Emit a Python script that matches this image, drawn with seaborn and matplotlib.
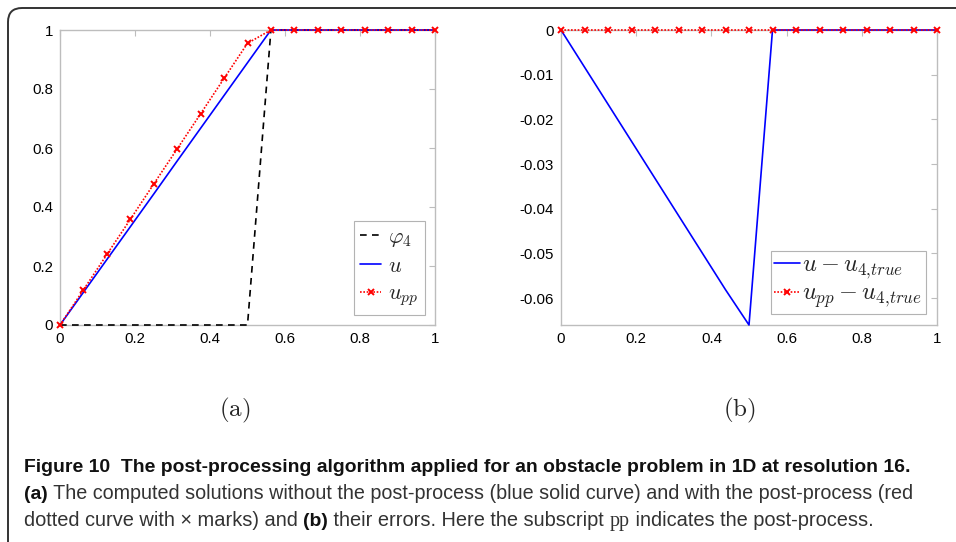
import numpy as np
import pandas as pd
import matplotlib
matplotlib.use("Agg")
import matplotlib.pyplot as plt
import seaborn as sns
from matplotlib.path import Path
from matplotlib.patches import PathPatch
from matplotlib.transforms import IdentityTransform

# ---------------- data ----------------
x_nodes = [0, 0.0625, 0.125, 0.1875, 0.25, 0.3125, 0.375, 0.4375, 0.5,
           0.5625, 0.625, 0.6875, 0.75, 0.8125, 0.875, 0.9375, 1.0]
phi4 = [0, 0, 0, 0, 0, 0, 0, 0, 0, 1, 1, 1, 1, 1, 1, 1, 1]
u_vals = [0, 0.111, 0.222, 0.333, 0.444, 0.556, 0.667, 0.778, 0.889,
          1, 1, 1, 1, 1, 1, 1, 1]
upp_vals = [0, 0.119, 0.239, 0.358, 0.478, 0.597, 0.716, 0.836, 0.955,
            1, 1, 1, 1, 1, 1, 1, 1]
u_err = [0, -0.0083, -0.0166, -0.0249, -0.0332, -0.0415, -0.0498, -0.0581,
         -0.066, 0, 0, 0, 0, 0, 0, 0, 0]
upp_err = [0] * 17

xticks = [0, 0.2, 0.4, 0.6, 0.8, 1]
xtick_labels = ["0", "0.2", "0.4", "0.6", "0.8", "1"]
yticks_a = [0, 0.2, 0.4, 0.6, 0.8, 1]
ytick_labels_a = ["0", "0.2", "0.4", "0.6", "0.8", "1"]
yticks_b = [-0.06, -0.05, -0.04, -0.03, -0.02, -0.01, 0]
ytick_labels_b = ["-0.06", "-0.05", "-0.04", "-0.03", "-0.02", "-0.01", "0"]

# ---------------- style ----------------
sns.set_theme(style="white")
plt.rcParams["font.family"] = ["Liberation Sans", "DejaVu Sans"]
plt.rcParams["mathtext.fontset"] = "cm"

W, H = 956, 542
fig = plt.figure(figsize=(W / 100, H / 100), dpi=100)
fig.patch.set_facecolor("white")

def px_axes(x0, y0, x1, y1):
    return fig.add_axes([x0 / W, 1 - y1 / H, (x1 - x0) / W, (y1 - y0) / H])

axA = px_axes(60, 30, 435, 325)
axB = px_axes(561, 30, 937, 325)

spine_col = "#bdbdbd"
for ax in (axA, axB):
    ax.set_facecolor("white")
    for s in ax.spines.values():
        s.set_color(spine_col)
        s.set_linewidth(1.0)
    ax.tick_params(direction="in", length=4, width=0.8, color=spine_col,
                   top=True, right=True, labelsize=10.8, labelcolor="black",
                   pad=5)
    ax.set_xlim(0, 1)
    ax.set_xticks(xticks)
    ax.set_xticklabels(xtick_labels)

df = pd.DataFrame({"x": x_nodes, "phi4": phi4, "u": u_vals, "upp": upp_vals,
                   "uerr": u_err, "upperr": upp_err})

red_kw = dict(color="#ff0000", linestyle=(0, (1, 1)), linewidth=1.2, marker="x",
              markersize=4.8, markeredgewidth=1.4, markeredgecolor="#ff0000",
              markerfacecolor="#ff0000", clip_on=False, sort=False)

# panel (a)
sns.lineplot(data=df, x="x", y="phi4", ax=axA, color="black", linestyle=(0, (4, 3.2)),
             linewidth=1.2, label=r"$\varphi_4$", clip_on=False, sort=False, zorder=3)
sns.lineplot(data=df, x="x", y="u", ax=axA, color="#0000ff", linewidth=1.2,
             label=r"$u$", clip_on=False, sort=False, zorder=3.1)
sns.lineplot(data=df, x="x", y="upp", ax=axA, label=r"$u_{pp}$", zorder=3.2, **red_kw)
axA.set_ylim(0, 1)
axA.set_yticks(yticks_a)
axA.set_yticklabels(ytick_labels_a)

# panel (b)
sns.lineplot(data=df, x="x", y="uerr", ax=axB, color="#0000ff", linewidth=1.2,
             label=r"$u-u_{4{,}true}$", clip_on=False, sort=False, zorder=3.1)
sns.lineplot(data=df, x="x", y="upperr", ax=axB, label=r"$u_{pp}-u_{4{,}true}$",
             zorder=3.2, **red_kw)
axB.set_ylim(-0.066, 0)
axB.set_yticks(yticks_b)
axB.set_yticklabels(ytick_labels_b)

for ax in (axA, axB):
    ax.set_xlabel("")
    ax.set_ylabel("")

legA = axA.legend(loc="lower right", fontsize=16, frameon=True, fancybox=False,
                  handlelength=0.95, handletextpad=0.3, borderpad=0.3,
                  labelspacing=0.3, borderaxespad=0.45, edgecolor="#a0a0a0")
legB = axB.legend(loc="lower right", fontsize=17.5, frameon=True, fancybox=False,
                  handlelength=1.05, handletextpad=0.1, borderpad=0.15,
                  labelspacing=0.08, borderaxespad=0.45, edgecolor="#a0a0a0")
for leg in (legA, legB):
    leg.get_frame().set_linewidth(0.8)

# sub-labels
fig.text(235 / W, 1 - 410 / H, r"$\mathrm{(a)}$", fontsize=18, ha="center", va="center")
fig.text(739 / W, 1 - 410 / H, r"$\mathrm{(b)}$", fontsize=18, ha="center", va="center")

# border frame (top + rounded top-left corner + left)
r = 14
x0, ytop = 8, H - 8
verts = [(W + 5, ytop), (x0 + r, ytop), (x0, ytop), (x0, ytop - r), (x0, -5)]
codes = [Path.MOVETO, Path.LINETO, Path.CURVE3, Path.CURVE3, Path.LINETO]
fig.add_artist(PathPatch(Path(verts, codes), facecolor="none", edgecolor="#333333",
                         linewidth=1.4, transform=IdentityTransform()))

# caption
cap_font = ["Liberation Sans", "DejaVu Sans"]
fig.canvas.draw()
renderer = fig.canvas.get_renderer()

def draw_pieces(xpx, ypx, pieces):
    xcur = xpx
    for txt, kw in pieces:
        kw = dict(kw)
        size = kw.pop("size")
        t = fig.text(xcur / W, 1 - ypx / H, txt, fontsize=size, ha="left",
                     va="baseline", **kw)
        bb = t.get_window_extent(renderer=renderer)
        xcur += bb.width

bold = dict(family=cap_font, weight="bold", size=13.95, color="#111111")
reg2 = dict(family=cap_font, size=14.2, color="#333333")
reg3 = dict(family=cap_font, size=14.45, color="#333333")
serif = dict(family=["Liberation Serif", "DejaVu Serif"], size=14.45, color="#333333")
draw_pieces(24, 472, [("Figure 10  The post-processing algorithm applied for an obstacle problem in 1D at resolution 16.", bold)])
draw_pieces(24, 499, [("(a)", bold),
                      (" The computed solutions without the post-process (blue solid curve) and with the post-process (red", reg2)])
draw_pieces(24, 526, [("dotted curve with \u00d7 marks) and ", reg3), ("(b)", bold),
                      (" their errors. Here the subscript ", reg3), ("pp", serif),
                      (" indicates the post-process.", reg3)])

fig.savefig("out.png", dpi=100, facecolor="white")
